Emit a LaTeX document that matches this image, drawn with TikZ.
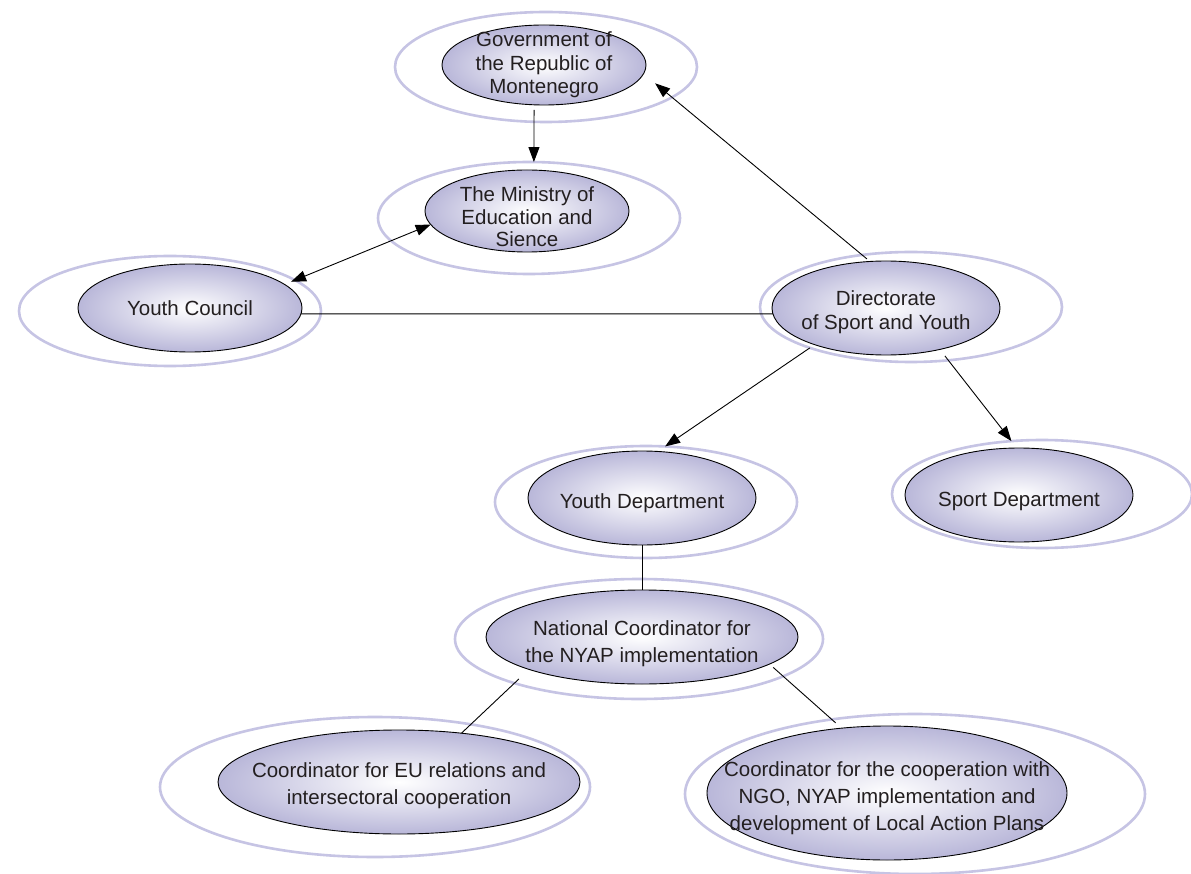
\documentclass[tikz,border=0pt]{standalone}
\usepackage{fontspec}
\setmainfont{Liberation Sans}
\usetikzlibrary{shapes.geometric,arrows.meta}
\definecolor{lav}{HTML}{B9B7D9}
\definecolor{lavline}{HTML}{C6C4E4}
\definecolor{txt}{HTML}{231F20}
\newcommand{\tlift}[1]{\rule{0pt}{#1}}
\begin{document}
\begin{tikzpicture}[x=1pt,y=-1pt,
  unit/.style={ellipse, draw=black, line width=0.9pt, shading=radial,
    inner color=white, outer color=lav, inner sep=-150pt, outer sep=0pt,
    align=center, text=txt, font=\fontsize{20.5}{24}\selectfont},
  ring/.style={ellipse, draw=lavline, line width=2.6pt, inner sep=0pt, outer sep=0pt},
  arr/.style={-{Triangle[length=15pt,width=11pt]}, line width=0.9pt},
  twoarr/.style={{Triangle[length=15pt,width=11pt]}-{Triangle[length=15pt,width=11pt]}, line width=0.9pt},
  link/.style={line width=0.9pt}]
\useasboundingbox (0,0) rectangle (1191,874);
\fill[white] (0,0) rectangle (1191,874);
% outer rings
\node[ring, minimum width=302pt, minimum height=110pt] (gov-o) at (546,67) {};
\node[ring, minimum width=302pt, minimum height=112pt] (min-o) at (529,218) {};
\node[ring, minimum width=302pt, minimum height=110pt] (yc-o) at (170,311) {};
\node[ring, minimum width=302pt, minimum height=110pt] (dir-o) at (911,307) {};
\node[ring, minimum width=302pt, minimum height=112pt] (yd-o) at (646,502) {};
\node[ring, minimum width=300pt, minimum height=108pt] (sd-o) at (1042,494) {};
\node[ring, minimum width=368pt, minimum height=120pt] (nc-o) at (639,639) {};
\node[ring, minimum width=430pt, minimum height=140pt] (eu-o) at (375,787) {};
\node[ring, minimum width=460pt, minimum height=160pt] (ngo-o) at (915,794) {};
% inner units
\node[unit, minimum width=204pt, minimum height=80pt, font=\fontsize{20.5}{23.5}\selectfont] (gov) at (544,65) {Government of\\the Republic of\\Montenegro};
\node[unit, minimum width=204pt, minimum height=82pt, font=\fontsize{20.5}{22.5}\selectfont] (min) at (527,211) {\tlift{27pt}The Ministry of\\Education and\\Sience};
\node[unit, minimum width=224pt, minimum height=88pt] (yc) at (190,308) {Youth Council};
\node[unit, minimum width=228pt, minimum height=94pt] (dir) at (886,308) {\tlift{23pt}Directorate\\of Sport and Youth};
\node[unit, minimum width=228pt, minimum height=94pt] (yd) at (642,498) {\tlift{25pt}Youth Department};
\node[unit, minimum width=228pt, minimum height=94pt] (sd) at (1019,495) {\tlift{27pt}Sport Department};
\node[unit, minimum width=312pt, minimum height=94pt, font=\fontsize{20.5}{27}\selectfont] (nc) at (642,637) {\tlift{29pt}National Coordinator for\\the NYAP implementation};
\node[unit, minimum width=362pt, minimum height=104pt, font=\fontsize{20.5}{27}\selectfont] (eu) at (399,782) {\tlift{23pt}Coordinator for EU relations and\\intersectoral cooperation};
\node[unit, minimum width=360pt, minimum height=134pt, font=\fontsize{20.5}{27}\selectfont] (ngo) at (887,793) {\tlift{25pt}Coordinator for the cooperation with\\NGO, NYAP implementation and\\development of Local Action Plans};
% connectors
\draw[arr, shorten <=5pt] (gov.256) -- (min-o.85);
\draw[twoarr, shorten <=7pt] (yc.14) -- (min.188.7);
\draw[link] (yc.-3.6) -- (dir.183.5);
\draw[arr, shorten <=4pt, shorten >=15pt] (dir.109) -- (gov.-5.5);
\draw[arr] (dir-o.202.3) -- (yd-o.71);
\draw[arr, shorten <=-5.5pt] (dir-o.-55.6) -- (sd-o.120);
\draw[link] (yd.south) -- (nc.north);
\draw[link, shorten <=14pt] (nc.196) -- (eu.38);
\draw[link, shorten <=5pt, shorten >=8pt] (nc.-12) -- (ngo.125.5);
\end{tikzpicture}
\end{document}
